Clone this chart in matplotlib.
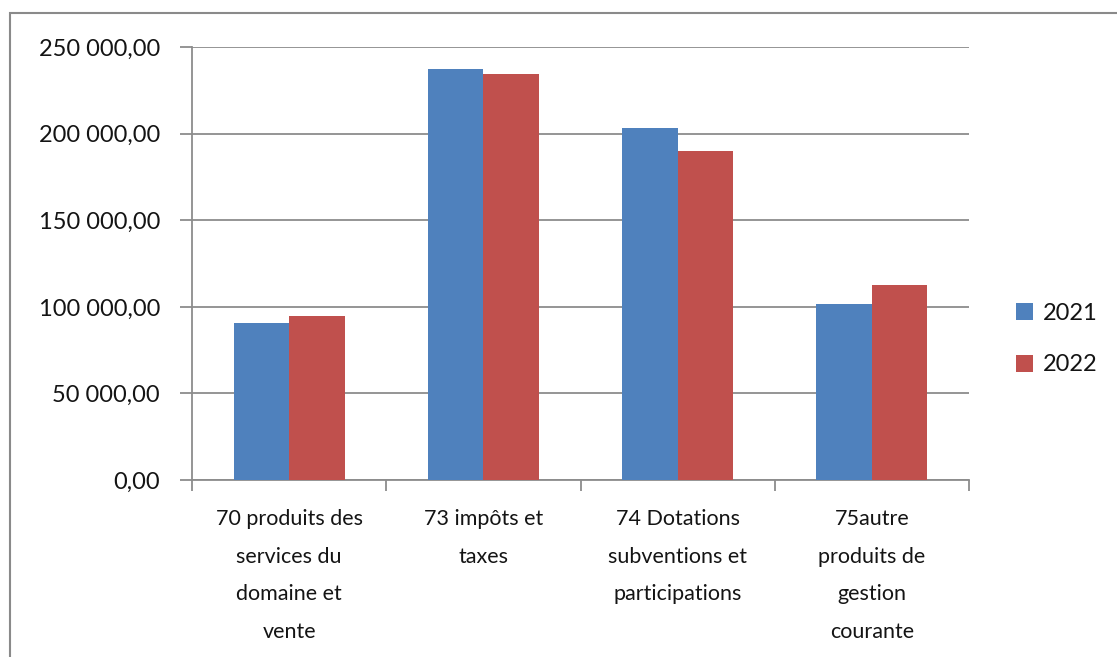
import matplotlib
matplotlib.use("Agg")
import matplotlib.pyplot as plt
from matplotlib.patches import Rectangle
from matplotlib.ticker import FuncFormatter, FixedLocator
import numpy as np

plt.rcParams["font.family"] = ["Lato", "DejaVu Sans"]

# ----------------------------
# Data
# ----------------------------
categories = [
    "70 produits des\nservices du\ndomaine et\nvente",
    "73 impôts et\ntaxes",
    "74 Dotations\nsubventions et\nparticipations",
    "75autre\nproduits de\ngestion\ncourante",
]
values_2021 = [90900, 237400, 203600, 101700]
values_2022 = [94800, 234300, 190200, 112700]
series_names = ["2021", "2022"]

COLOR_2021 = "#4F81BD"
COLOR_2022 = "#C0504D"
GRID_GRAY  = "#8C8C8C"
TEXT_COL   = "#141414"

def fr_num(v, pos=None):
    s = f"{v:,.2f}"
    return s.replace(",", " ").replace(".", ",")

W, H = 1117, 657
fig = plt.figure(figsize=(W / 100, H / 100), dpi=100)

# chart outer frame (cropped on right/bottom)
fig.patches.append(Rectangle((10 / W, -0.1), 1.2, (H - 13) / H + 0.1,
                             transform=fig.transFigure, fill=False,
                             edgecolor="#8A8A8A", linewidth=1.5))

ax = fig.add_axes([192 / W, (H - 480) / H, (969 - 192) / W, (480 - 47.3) / H])

n = len(categories)
x = np.arange(n)
bw = 1 / 3.5   # Excel gap width 150%
ax.bar(x - bw / 2, values_2021, width=bw, color=COLOR_2021, label=series_names[0], zorder=3)
ax.bar(x + bw / 2, values_2022, width=bw, color=COLOR_2022, label=series_names[1], zorder=3)

ax.set_xlim(-0.5, n - 0.5)
ax.set_ylim(0, 250000)
ax.set_yticks(np.arange(0, 250001, 50000))
ax.yaxis.set_major_formatter(FuncFormatter(fr_num))
ax.grid(axis="y", color=GRID_GRAY, linewidth=1.3, zorder=0)

# x ticks at category boundaries, labels centered
ax.xaxis.set_major_locator(FixedLocator(np.arange(n + 1) - 0.5))
ax.xaxis.set_major_formatter(FuncFormatter(lambda v, p: ""))
ax.xaxis.set_minor_locator(FixedLocator(x))
ax.set_xticklabels(categories, minor=True)
ax.tick_params(axis="x", which="minor", length=0, pad=21, labelsize=15.5,
               labelcolor=TEXT_COL)
for lbl in ax.get_xticklabels(minor=True):
    lbl.set_linespacing(2.1)
    lbl.set_verticalalignment("top")
ax.tick_params(axis="x", which="major", length=8, width=1.3, color=GRID_GRAY)
ax.tick_params(axis="y", length=9, width=1.3, color=GRID_GRAY, pad=14,
               labelsize=17, labelcolor=TEXT_COL)

for side in ("top", "right"):
    ax.spines[side].set_visible(False)
for side in ("left", "bottom"):
    ax.spines[side].set_color(GRID_GRAY)
    ax.spines[side].set_linewidth(1.3)

fig.legend(handles=ax.get_legend_handles_labels()[0],
           labels=series_names, loc="center left",
           bbox_to_anchor=(1016 / W, (H - 339) / H), bbox_transform=fig.transFigure,
           frameon=False, borderaxespad=0, borderpad=0,
           fontsize=17, handlelength=0.72, handleheight=0.72, handletextpad=0.4,
           labelspacing=1.3, labelcolor=TEXT_COL)

fig.savefig("out.png", dpi=100)
